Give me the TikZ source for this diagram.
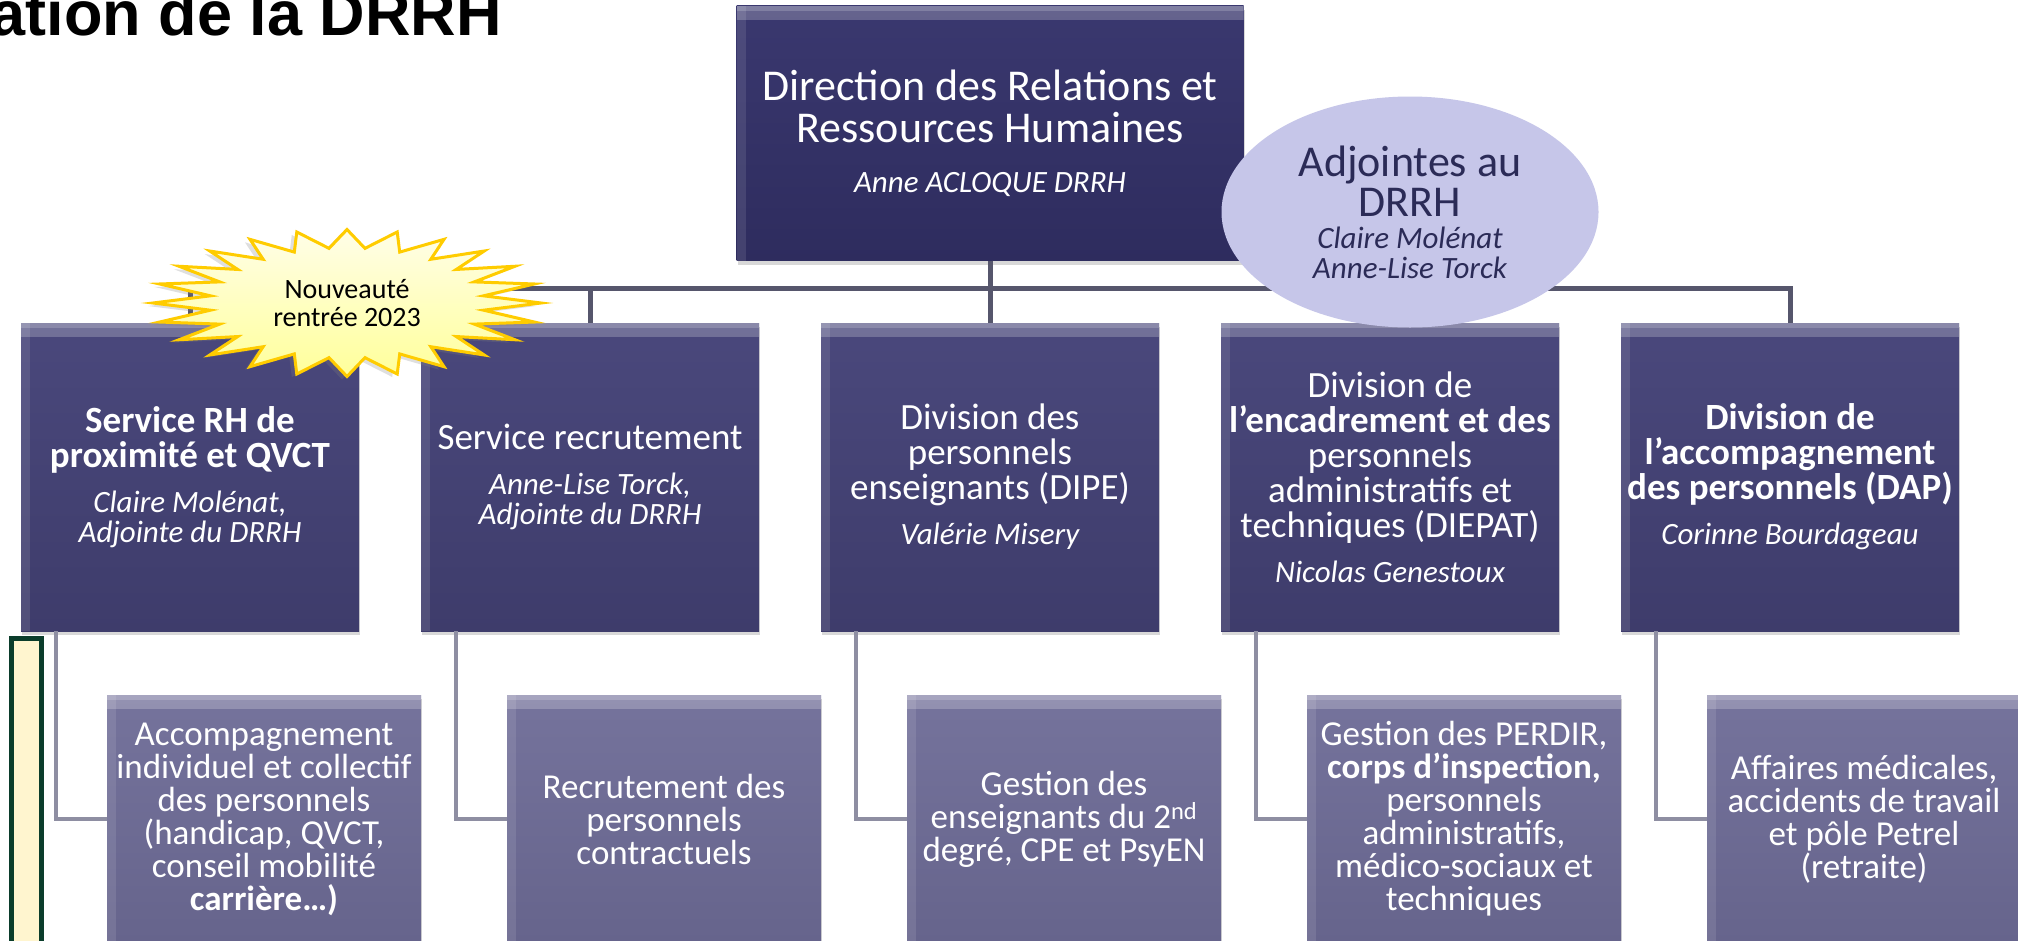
\documentclass[tikz,border=0pt]{standalone}
\usepackage{fontspec}
\setmainfont{Carlito}
\newfontfamily\titlefont{Liberation Sans}
\usetikzlibrary{shapes.geometric,shadows}

\definecolor{headtop}{HTML}{3A386F}
\definecolor{headbot}{HTML}{2E2C5E}
\definecolor{divtop}{HTML}{4A487C}
\definecolor{divbot}{HTML}{3E3C6B}
\definecolor{unittop}{HTML}{75739C}
\definecolor{unitbot}{HTML}{66648C}
\definecolor{adjfill}{HTML}{C6C6E9}
\definecolor{adjtext}{HTML}{2B2B57}
\definecolor{busline}{HTML}{56566C}
\definecolor{subline}{HTML}{8E8EA2}
\definecolor{starfill}{HTML}{FFFF9A}
\definecolor{starlight}{HTML}{FFFEE8}
\definecolor{starrim}{HTML}{FFCC00}
\definecolor{notefill}{HTML}{FFF5CF}
\definecolor{noterim}{HTML}{0B3D2B}

% name lines in italics, under the title of a box
\newcommand{\nom}[2][15]{\par\vspace{#1pt}{\itshape\fontsize{31}{30}\selectfont #2\par}}

\begin{document}
\begin{tikzpicture}[x=1pt,y=-1pt]
\tikzstyle{box}=[rectangle,inner sep=0pt,align=flush center,text=white,
  drop shadow={shadow xshift=1pt,shadow yshift=-4pt,opacity=.3},
  path picture={
    \fill[white,opacity=.22] (path picture bounding box.north west) rectangle ([yshift=-14pt]path picture bounding box.north east);
    \fill[white,opacity=.18] (path picture bounding box.north west) rectangle ([yshift=-5pt]path picture bounding box.north east);
    \fill[white,opacity=.10] (path picture bounding box.north west) rectangle ([xshift=9pt]path picture bounding box.south west);}]
\tikzstyle{head}=[box,top color=headtop,bottom color=headbot,minimum width=507pt,minimum height=255pt,text width=500pt,font=\fontsize{44}{42}\selectfont]
\tikzstyle{division}=[box,top color=divtop,bottom color=divbot,minimum width=338pt,minimum height=308pt,text width=338pt,font=\fontsize{37}{35}\selectfont]
\tikzstyle{mission}=[box,top color=unittop,bottom color=unitbot,minimum width=314pt,minimum height=248pt,text width=314pt,font=\fontsize{35}{33}\selectfont]
\tikzstyle{bus}=[draw=busline,line width=5pt]
\tikzstyle{link}=[draw=subline,line width=4pt]
\tikzstyle{burst}=[draw=starrim,line width=3pt,top color=starlight,bottom color=starfill,
  drop shadow={shadow xshift=-5pt,shadow yshift=-3pt,opacity=.25}]
\useasboundingbox (0,0) rectangle (2018,940);
\clip (0,0) rectangle (2018,940);
\fill[white] (0,0) rectangle (2018,940);

% direction
\node[head] (drrh) at (990,133) {Direction des Relations et\\ Ressources Humaines\nom[20]{Anne ACLOQUE DRRH}};

% divisions and services
\node[division] (d1) at (190,477) {\textbf{Service RH de\\ proximité et QVCT}\nom{Claire Molénat,\\ Adjointe du DRRH}};
\node[division] (d2) at (590,477) {Service recrutement\nom{Anne-Lise Torck,\\ Adjointe du DRRH}};
\node[division] (d3) at (990,477) {Division des\\ personnels\\ enseignants (DIPE)\nom{Valérie Misery}};
\node[division] (d4) at (1390,477) {Division de\\ \textbf{l’encadrement et des}\\ personnels\\ administratifs et\\ techniques (DIEPAT)\nom{Nicolas Genestoux}};
\node[division] (d5) at (1790,477) {\textbf{Division de\\ l’accompagnement\\ des personnels (DAP)}\nom{Corinne Bourdageau}};

% missions
\node[mission] (u1) at (264,819) {Accompagnement\\ individuel et collectif\\ des personnels\\ (handicap, QVCT,\\ conseil mobilité\\ \textbf{carrière…)}};
\node[mission] (u2) at (664,819) {Recrutement des\\ personnels\\ contractuels};
\node[mission] (u3) at (1064,819) {Gestion des\\ enseignants du 2\textsuperscript{nd}\\ degré, CPE et PsyEN};
\node[mission] (u4) at (1464,819) {Gestion des PERDIR,\\ \textbf{corps d’inspection,}\\ personnels\\ administratifs,\\ médico-sociaux et\\ techniques};
\node[mission] (u5) at (1864,819) {Affaires médicales,\\ accidents de travail\\ et pôle Petrel\\ (retraite)};

\foreach \n in {d1,d2,d3,d4,d5}
  \path[bus] (drrh.south) -- ++(0,28) -| (\n.north);
\foreach \i in {1,...,5}
  \path[link] ([xshift=35pt]d\i.south west) |- (u\i.west);

\node[draw=noterim,fill=notefill,line width=5pt,minimum width=30pt,minimum height=330pt,inner sep=0pt] (note) at (26,803) {};

\node[ellipse,fill=adjfill,text=adjtext,minimum width=377pt,minimum height=231pt,inner sep=0pt,text width=240pt,align=flush center,font=\fontsize{44}{40}\selectfont] (adj) at (1410,212) {Adjointes au\\ DRRH\nom[2]{Claire Molénat\\ Anne-Lise Torck}};

% starburst
\coordinate (burst) at (347,303);
\path[burst,shift={(burst)}] plot[samples at={0,...,47}] ({194*cos(\x*7.5)*(1-0.29*mod(\x,2))},{73.5*sin(\x*7.5)*(1-0.25*mod(\x,2))}) -- cycle;
\node[align=center,font=\fontsize{28}{28}\selectfont] (new) at (burst) {Nouveauté\\ rentrée 2023};

\node[anchor=base east,inner sep=0pt,font=\titlefont\bfseries\fontsize{63}{63}\selectfont] (title) at (502,35) {ation de la DRRH};
\end{tikzpicture}
\end{document}
